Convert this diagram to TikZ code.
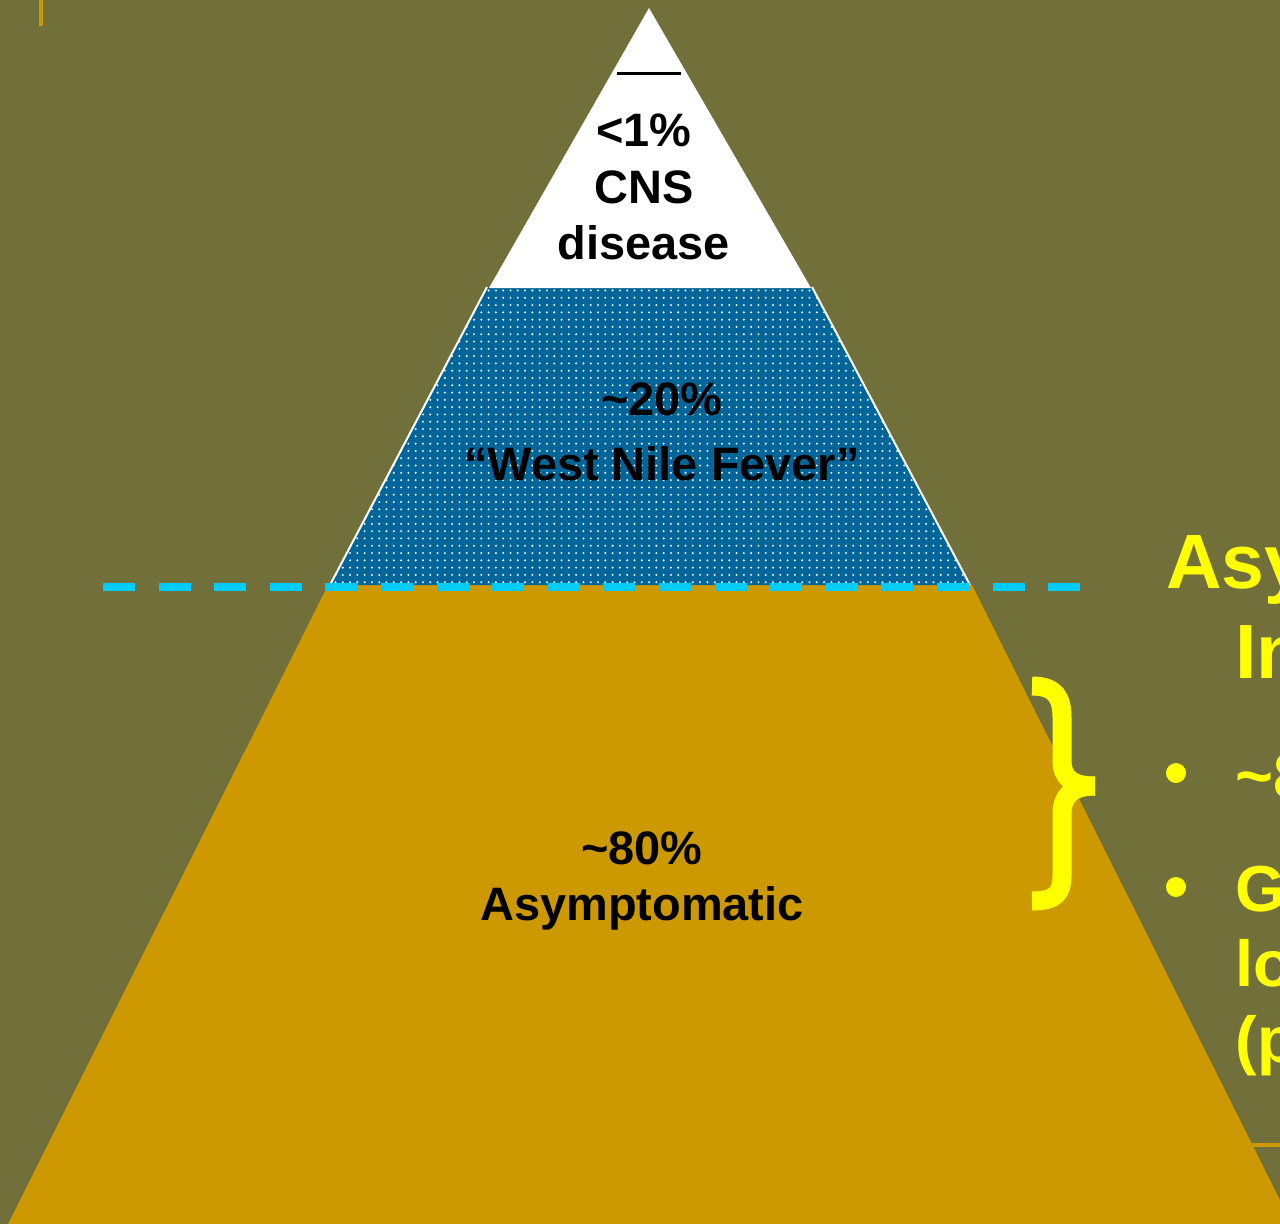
\documentclass[tikz,border=0pt]{standalone}
\usepackage{fontspec}
\setmainfont{Liberation Sans}
\usepackage{xcolor}
\usepackage{tikz}
\usetikzlibrary{patterns.meta}

\definecolor{oliveback}{RGB}{113,111,58}
\definecolor{goldbase}{RGB}{204,153,0}
\definecolor{nileblue}{RGB}{0,102,153}
\definecolor{waterline}{RGB}{0,204,255}
\definecolor{notelabel}{RGB}{255,255,0}

\begin{document}
\begin{tikzpicture}[
    x=0.2mm, y=-0.2mm,
    tier/.style={align=center, inner sep=0pt, font=\bfseries\fontsize{26.7}{32.2}\selectfont},
    note/.style={anchor=base west, inner sep=0pt, text=notelabel, font=\bfseries\fontsize{43.8}{51}\selectfont},
    item/.style={inner sep=0pt, align=left, text=notelabel, font=\bfseries\fontsize{37}{43.2}\selectfont},
    dashline/.style={draw=waterline, line width=1.6mm, dash pattern=on 6.4mm off 4.72mm},
    edge/.style={draw=white, line width=0.4mm},
    brace/.style={draw=notelabel, line width=3.8mm}
]
    \useasboundingbox (0,0) rectangle (1280,1224);
    \clip (0,0) rectangle (1280,1224);
    \fill[oliveback] (0,0) rectangle (1280,1224);
    \draw[goldbase, line width=0.8mm] (41,0) -- (41,26);
    \draw[goldbase, line width=0.8mm] (1200,1145) -- (1280,1145);

    \coordinate (apex) at (649,8);
    \fill[goldbase] (328,585) -- (972,585) -- (1292,1224) -- (8,1224) -- cycle;
    \path[fill=nileblue, postaction={pattern={Dots[distance=4.15pt, radius=0.65pt]}, pattern color=white!90!nileblue}]
        (487,287) -- (812,287) -- (970,585) -- (330,585) -- cycle;
    \draw[edge] (487,287) -- (330,585);
    \draw[edge] (812,287) -- (970,585);
    \fill[white] (apex) -- (811,288) -- (489,288) -- cycle;
    \draw[black, line width=0.6mm] (617,73) -- (681,73);

    \draw[dashline] (103,587) -- (1081,587);

    \node[tier] (cns) at (644,187) {<1\%\\CNS\\disease};
    \node[tier, font=\bfseries\fontsize{26.7}{37}\selectfont] (fever) at (662,432) {\textasciitilde20\%\\“West Nile Fever”};
    \node[tier, font=\bfseries\fontsize{26.7}{32.4}\selectfont] (silent) at (642,881) {\textasciitilde80\%\\Asymptomatic};

    \draw[brace] (1032,686) .. controls (1056,686) and (1062,698) .. (1062,718) -- (1062,760)
        .. controls (1062,778) and (1072,786) .. (1095,786);
    \draw[brace] (1095,786) .. controls (1072,786) and (1062,796) .. (1062,814) -- (1062,875)
        .. controls (1062,893) and (1056,901) .. (1032,901);

    \node[note] (headA) at (1166,588) {Asy};
    \node[note] (headB) at (1235,678) {In};
    \fill[notelabel] (1176,773) circle[radius=2mm];
    \fill[notelabel] (1176,887) circle[radius=2mm];
    \node[item, anchor=base west] (itemA) at (1235,798) {\textasciitilde8};
    \node[item, anchor=west] (itemB) at (1235,971) {G\\lo\\(p};
\end{tikzpicture}
\end{document}
